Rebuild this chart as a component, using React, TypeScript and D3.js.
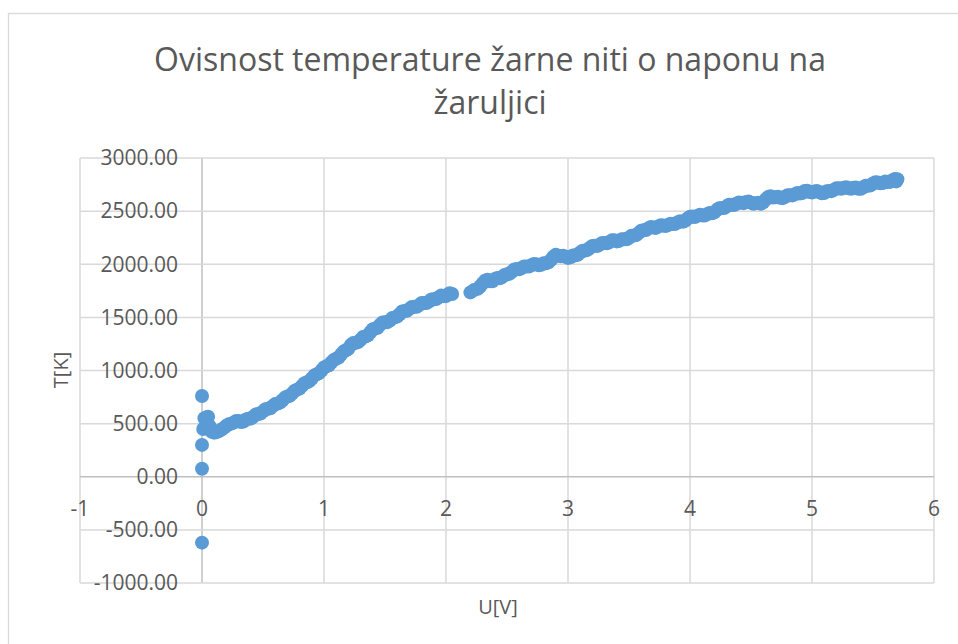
import React, { useRef, useEffect } from 'react';
import * as d3 from 'd3';

// napon U[V] i temperatura T[K], ocitano sa grafa
const napon: number[] = [
  0, 0, 0, 0,
  0.01, 0.02, 0.03, 0.04, 0.05, 0.06, 0.07, 0.08, 0.09, 0.10, 0.12, 0.14, 0.16, 0.18, 0.20, 0.22, 0.24,
  0.26, 0.30, 0.34, 0.38, 0.42, 0.46, 0.50, 0.54, 0.58, 0.62, 0.66, 0.70, 0.74, 0.78, 0.82, 0.86, 0.90, 0.94, 0.98,
  1.02, 1.06, 1.10, 1.14, 1.18, 1.22, 1.26, 1.30, 1.34, 1.38, 1.42, 1.46, 1.50, 1.54, 1.58, 1.62, 1.66, 1.70,
  1.74, 1.78, 1.82, 1.86, 1.90, 1.94, 1.98, 2.02, 2.05,
  2.20, 2.26, 2.30, 2.34, 2.38, 2.42, 2.46, 2.50, 2.54, 2.58, 2.62, 2.66, 2.70, 2.74, 2.78, 2.82, 2.86, 2.90,
  2.94, 2.98, 3.02, 3.06, 3.10, 3.14, 3.18, 3.22, 3.26, 3.30, 3.34, 3.38, 3.42, 3.46, 3.50, 3.54, 3.58, 3.62,
  3.66, 3.70, 3.74, 3.78, 3.82, 3.86, 3.90, 3.94, 3.98, 4.02, 4.06, 4.10, 4.14, 4.18, 4.22, 4.26, 4.30, 4.34,
  4.38, 4.42, 4.46, 4.50, 4.54, 4.58, 4.62, 4.66, 4.70, 4.74, 4.78, 4.82, 4.86, 4.90, 4.94, 4.98, 5.02, 5.06,
  5.10, 5.14, 5.18, 5.22, 5.26, 5.30, 5.34, 5.38, 5.42, 5.46, 5.50, 5.54, 5.58, 5.62, 5.66, 5.70, 5.69,
];

const temperatura: number[] = [
  760, 300, 75, -620,
  450, 550, 470, 560, 565, 480, 440, 424, 430, 415, 420, 430, 445, 460, 480, 495, 500,
  510, 525, 520, 545, 565, 590, 615, 640, 665, 690, 720, 755, 785, 820, 855, 890, 925, 965, 1000,
  1040, 1075, 1110, 1150, 1190, 1240, 1260, 1290, 1320, 1360, 1395, 1430, 1455, 1470, 1500, 1530, 1560, 1580,
  1600, 1615, 1635, 1650, 1670, 1690, 1700, 1715, 1720,
  1735, 1770, 1820, 1855, 1840, 1870, 1880, 1905, 1930, 1955, 1965, 1980, 1990, 2000, 1995, 2010, 2040, 2090,
  2075, 2070, 2065, 2085, 2110, 2130, 2155, 2175, 2185, 2200, 2210, 2225, 2220, 2235, 2250, 2270, 2295, 2320,
  2340, 2345, 2355, 2365, 2370, 2380, 2395, 2400, 2430, 2450, 2455, 2460, 2470, 2480, 2510, 2530, 2545, 2560,
  2570, 2580, 2585, 2580, 2575, 2570, 2610, 2640, 2630, 2625, 2635, 2650, 2660, 2665, 2690, 2680, 2685, 2680,
  2670, 2690, 2700, 2715, 2720, 2715, 2720, 2710, 2725, 2740, 2760, 2770, 2765, 2775, 2790, 2800, 2780,
];

// medjutocke (isto mjerenje, gusci raspored)
const naponB: number[] = [
  0.28, 0.32, 0.36, 0.40, 0.44, 0.48, 0.52, 0.56, 0.60, 0.64, 0.68, 0.72, 0.76, 0.80, 0.84, 0.88, 0.92, 0.96, 1.00,
  1.04, 1.08, 1.12, 1.16, 1.20, 1.24, 1.28, 1.32, 1.36, 1.40, 1.44, 1.48, 1.52, 1.56, 1.60, 1.64, 1.68, 1.72,
  1.76, 1.80, 1.84, 1.88, 1.92, 1.96, 2.00, 2.03,
  2.23, 2.28, 2.32, 2.36, 2.40, 2.44, 2.48, 2.52, 2.56, 2.60, 2.64, 2.68, 2.72, 2.76, 2.80, 2.84, 2.88, 2.92,
  2.96, 3.00, 3.04, 3.08, 3.12, 3.16, 3.20, 3.24, 3.28, 3.32, 3.36, 3.40, 3.44, 3.48, 3.52, 3.56, 3.60, 3.64,
  3.68, 3.72, 3.76, 3.80, 3.84, 3.88, 3.92, 3.96, 4.00, 4.04, 4.08, 4.12, 4.16, 4.20, 4.24, 4.28, 4.32, 4.36,
  4.40, 4.44, 4.48, 4.52, 4.56, 4.60, 4.64, 4.68, 4.72, 4.76, 4.80, 4.84, 4.88, 4.92, 4.96, 5.00, 5.04, 5.08,
  5.12, 5.16, 5.20, 5.24, 5.28, 5.32, 5.36, 5.40, 5.44, 5.48, 5.52, 5.56, 5.60, 5.64, 5.68,
];

const temperaturaB: number[] = [
  525, 515, 540, 548, 585, 595, 635, 645, 685, 698, 745, 762, 810, 830, 880, 900, 952, 975, 1028,
  1050, 1100, 1122, 1178, 1205, 1258, 1268, 1315, 1332, 1388, 1402, 1452, 1455, 1495, 1508, 1555, 1562, 1598,
  1600, 1635, 1635, 1668, 1672, 1705, 1700, 1728,
  1758, 1790, 1845, 1840, 1862, 1868, 1900, 1910, 1950, 1952, 1980, 1978, 2002, 1990, 2010, 2018, 2070, 2080,
  2080, 2060, 2082, 2090, 2128, 2135, 2172, 2172, 2200, 2198, 2225, 2215, 2235, 2235, 2268, 2275, 2315, 2322,
  2350, 2342, 2368, 2360, 2382, 2380, 2405, 2408, 2448, 2445, 2465, 2458, 2482, 2488, 2528, 2530, 2560, 2558,
  2582, 2575, 2590, 2570, 2580, 2582, 2632, 2628, 2635, 2622, 2650, 2648, 2670, 2670, 2692, 2675, 2690, 2668,
  2688, 2688, 2715, 2710, 2725, 2710, 2722, 2710, 2740, 2742, 2772, 2762, 2778, 2775, 2802,
];

const xTicks = [-1, 0, 1, 2, 3, 4, 5, 6];
const yTicks = [-1000, -500, 0, 500, 1000, 1500, 2000, 2500, 3000];
const naslov = ['Ovisnost temperature žarne niti o naponu na', 'žaruljici'];

const App: React.FC = () => {
  const svgRef = useRef<SVGSVGElement>(null);

  useEffect(() => {
    if (!svgRef.current) return;
    const svg = d3.select(svgRef.current);
    svg.selectAll('*').remove();

    const width = 958;
    const height = 644;
    const font = '"Open Sans", "Noto Sans", sans-serif';
    const textColor = '#595959';

    const x = d3.scaleLinear().domain([-1, 6]).range([80, 934]);
    const y = d3.scaleLinear().domain([-1000, 3000]).range([583, 158]);

    svg.attr('width', width).attr('height', height);

    svg.append('rect')
      .attr('x', 0).attr('y', 0).attr('width', width).attr('height', height)
      .attr('fill', '#fff');

    // okvir grafa
    svg.append('rect')
      .attr('x', 8.5).attr('y', 13.5).attr('width', 1000).attr('height', 700)
      .attr('fill', 'none').attr('stroke', '#d9d9d9').attr('stroke-width', 1.3);

    // naslov
    svg.append('text')
      .attr('text-anchor', 'middle')
      .attr('font-family', font)
      .attr('font-size', 32)
      .attr('fill', textColor)
      .selectAll('tspan')
      .data(naslov)
      .enter().append('tspan')
      .attr('x', 490)
      .attr('y', (_d, i) => 71 + i * 43)
      .text(d => d);

    // mreza
    const grid = svg.append('g');
    grid.selectAll('.vline')
      .data(xTicks)
      .enter().append('line')
      .attr('x1', d => x(d)).attr('x2', d => x(d))
      .attr('y1', y(3000)).attr('y2', y(-1000))
      .attr('stroke', d => (d === 0 ? '#bfbfbf' : '#d9d9d9'))
      .attr('stroke-width', 1.5);
    grid.selectAll('.hline')
      .data(yTicks)
      .enter().append('line')
      .attr('x1', x(-1)).attr('x2', x(6))
      .attr('y1', d => y(d)).attr('y2', d => y(d))
      .attr('stroke', d => (d === 0 ? '#bfbfbf' : '#d9d9d9'))
      .attr('stroke-width', 1.5);

    // oznake osi
    svg.append('g').selectAll('text')
      .data(yTicks)
      .enter().append('text')
      .attr('x', 178)
      .attr('y', d => y(d))
      .attr('dy', '0.35em')
      .attr('text-anchor', 'end')
      .attr('font-family', font)
      .attr('font-size', 21)
      .attr('fill', textColor)
      .text(d => d3.format('.2f')(d).replace('−', '-'));

    svg.append('g').selectAll('text')
      .data(xTicks)
      .enter().append('text')
      .attr('x', d => x(d))
      .attr('y', 509)
      .attr('dy', '0.35em')
      .attr('text-anchor', 'middle')
      .attr('font-family', font)
      .attr('font-size', 21)
      .attr('fill', textColor)
      .text(d => String(d));

    // naslovi osi
    svg.append('text')
      .attr('transform', 'translate(61,370) rotate(-90)')
      .attr('dy', '0.35em')
      .attr('text-anchor', 'middle')
      .attr('font-family', font)
      .attr('font-size', 20)
      .attr('fill', textColor)
      .text('T[K]');

    svg.append('text')
      .attr('x', 498)
      .attr('y', 607)
      .attr('dy', '0.35em')
      .attr('text-anchor', 'middle')
      .attr('font-family', font)
      .attr('font-size', 20)
      .attr('fill', textColor)
      .text('U[V]');

    // tocke
    const points = napon.map((u, i) => ({ u, t: temperatura[i] }))
      .concat(naponB.map((u, i) => ({ u, t: temperaturaB[i] })));
    svg.append('g').selectAll('circle')
      .data(points)
      .enter().append('circle')
      .attr('cx', d => x(d.u))
      .attr('cy', d => y(d.t))
      .attr('r', 7)
      .attr('fill', '#5b9bd5');
  }, []);

  return <svg ref={svgRef} style={{ position: 'absolute', left: 0, top: 0 }}></svg>;
};

export default App;
